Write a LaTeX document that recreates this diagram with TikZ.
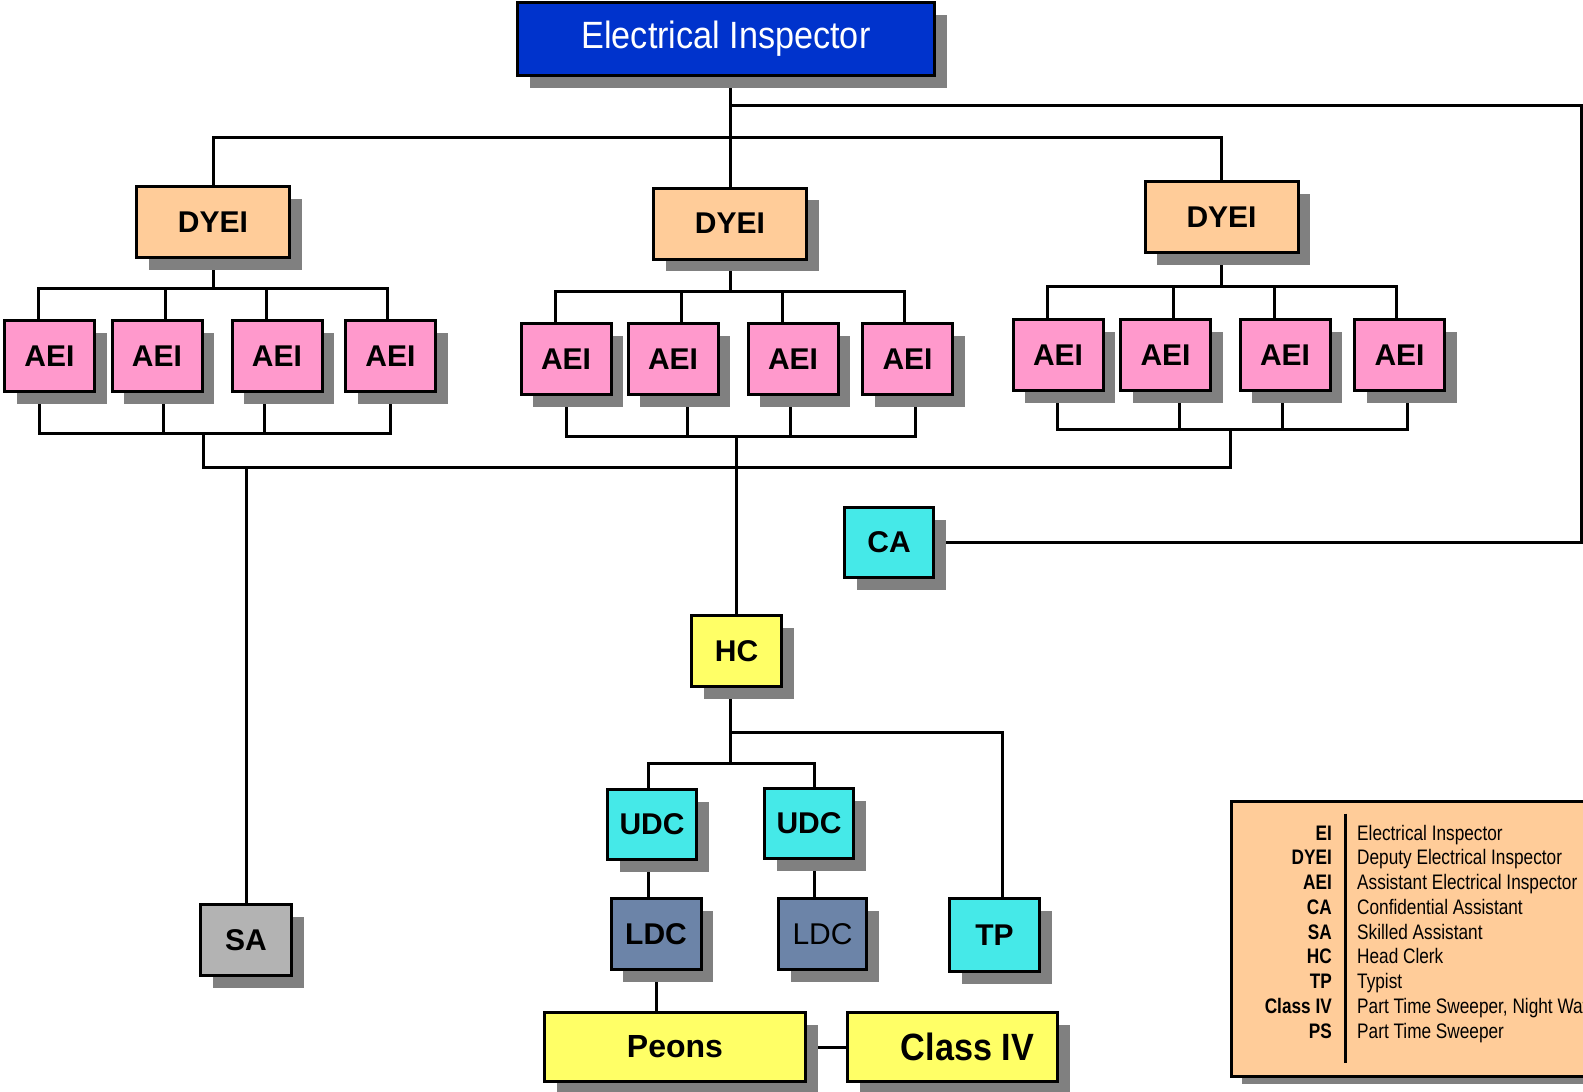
\documentclass[tikz,border=0pt]{standalone}
\usepackage{fontspec}
\setmainfont{Liberation Sans}
\newfontfamily\titlefont[FakeStretch=0.9]{Liberation Sans}
\newfontfamily\narrowfont[FakeStretch=0.82]{Liberation Sans}
\usetikzlibrary{positioning,shadows}
\pgfdeclarelayer{bg}
\pgfsetlayers{bg,main}

\definecolor{eiblue}{RGB}{0,51,204}
\definecolor{peach}{RGB}{255,204,153}
\definecolor{aeipink}{RGB}{255,153,204}
\definecolor{cyanbox}{RGB}{69,233,232}
\definecolor{yellowbox}{RGB}{255,255,102}
\definecolor{slate}{RGB}{108,132,168}
\definecolor{greybox}{RGB}{179,179,179}
\definecolor{shade}{RGB}{128,128,128}

\begin{document}
\begin{tikzpicture}[x=1pt, y=-1pt,
  box/.style={rectangle, draw=black, line width=3pt, inner sep=0pt, minimum width=90pt, minimum height=71pt,
    font=\fontsize{30}{36}\selectfont\bfseries,
    drop shadow={shadow xshift=12pt, shadow yshift=-12pt, fill=shade, opacity=1}},
  dyei/.style={box, fill=peach, minimum width=153pt},
  aei/.style={box, fill=aeipink},
  link/.style={line width=3pt, line cap=rect}]
%

\useasboundingbox (0,0) rectangle (1583,1092);
\clip (0,0) rectangle (1583,1092);

%%% nodes and boxes

%%% INSPECTOR
\node [box, fill=eiblue, text=white, minimum width=417pt, minimum height=73pt, font=\titlefont\fontsize{38}{44}\selectfont] (ei) at (726,39) {Electrical Inspector};

%%% DEPUTIES
\node [dyei] (dl) at (213,222) {DYEI};
\node [dyei] (dm) at (730,223.5) {DYEI};
\node [dyei] (dr) at (1221.5,217) {DYEI};

%%% ASSISTANTS
\node [aei] (l1) at (49.5,356) {AEI};
\node [aei] (l2) at (157,356) {AEI};
\node [aei] (l3) at (277,356) {AEI};
\node [aei] (l4) at (390.5,356) {AEI};

\node [aei] (m1) at (566,359) {AEI};
\node [aei] (m2) at (673,359) {AEI};
\node [aei] (m3) at (793,359) {AEI};
\node [aei] (m4) at (907.5,359) {AEI};

\node [aei] (r1) at (1058,355) {AEI};
\node [aei] (r2) at (1165.5,355) {AEI};
\node [aei] (r3) at (1285,355) {AEI};
\node [aei] (r4) at (1399.5,355) {AEI};

%%% OFFICE
\node [box, fill=cyanbox, minimum width=89pt, minimum height=70pt] (ca) at (889,542.5) {CA};
\node [box, fill=yellowbox] (hc) at (736.5,651) {HC};
\node [box, fill=cyanbox, minimum width=89pt, minimum height=70pt] (udc1) at (652,824.5) {UDC};
\node [box, fill=cyanbox, minimum width=89pt, minimum height=70pt] (udc2) at (809,823.5) {UDC};
\node [box, fill=slate] (ldc1) at (656,934) {LDC};
\node [box, fill=slate, minimum width=88pt, font=\fontsize{30}{36}\selectfont] (ldc2) at (822.5,934) {LDC};
\node [box, fill=greybox, minimum width=91pt] (sa) at (246,940) {SA};
\node [box, fill=cyanbox, minimum height=73pt] (tp) at (994.5,935) {TP};
\node [box, fill=yellowbox, minimum width=261pt, minimum height=69pt, font=\fontsize{32}{38}\selectfont\bfseries] (peons) at (675,1047) {Peons};
\node [box, fill=yellowbox, minimum width=210pt, minimum height=69pt, font=\titlefont\fontsize{38}{44}\selectfont\bfseries] (class4) at (952.5,1047) {\hspace*{30pt}Class IV};

%%% LEGEND
\node [rectangle, draw=black, line width=3pt, fill=peach, minimum width=400pt, minimum height=275pt, anchor=north west,
  drop shadow={shadow xshift=11pt, shadow yshift=-8pt, fill=shade, opacity=1}] (legend) at (1229.5,799.5) {};
\draw [line width=3pt] ([shift={(115.5,14)}]legend.north west) -- ++(0,249);
\foreach \abbr/\desc [count=\i from 0] in {EI/Electrical Inspector, DYEI/Deputy Electrical Inspector,
  AEI/Assistant Electrical Inspector, CA/Confidential Assistant, SA/Skilled Assistant, HC/Head Clerk,
  TP/Typist, Class IV/{Part Time Sweeper, Night Watchman}, PS/Part Time Sweeper}
{
  \node [anchor=base east, inner sep=0pt, font=\narrowfont\fontsize{21}{25}\selectfont\bfseries] (key-\i) at (1332,840+24.75*\i) {\abbr};
  \node [anchor=base west, inner sep=0pt, font=\narrowfont\fontsize{21}{25}\selectfont] (text-\i) at (1357,840+24.75*\i) {\desc};
}

%%% connections

\begin{pgfonlayer}{bg}
\draw [link] (ei.south -| dm.north) -- (dm.north);
\draw [link] (dl.north) |- (dm.north |- 0,137) -| (dr.north);
\coordinate (ca-turn) at (1581,105);
\draw [link] (dm.north |- ca-turn) -- (ca-turn) |- (ca.east);

\foreach \g/\ty/\by/\oa/\ob/\oc/\od in {l/288/433/-10/6/-13/0, m/291/436/0/14/-3/8, r/286/429/-1/14/-3/8}
{
  \draw [link] (d\g.south) -- (d\g.south |- 0,\ty);
  \draw [link] ([xshift=-11pt]\g1.north) |- ([xshift=-3pt]\g4.north |- 0,\ty) -- ([xshift=-3pt]\g4.north);
  \draw [link] ([xshift=8pt]\g2.north) -- ([xshift=8pt]\g2.north |- 0,\ty);
  \draw [link] ([xshift=-11pt]\g3.north) -- ([xshift=-11pt]\g3.north |- 0,\ty);
  \draw [link] ([xshift=\oa pt]\g1.south) |- ([xshift=\od pt]\g4.south |- 0,\by) -- ([xshift=\od pt]\g4.south);
  \draw [link] ([xshift=\ob pt]\g2.south) -- ([xshift=\ob pt]\g2.south |- 0,\by);
  \draw [link] ([xshift=\oc pt]\g3.south) -- ([xshift=\oc pt]\g3.south |- 0,\by);
}

\coordinate (jl) at (203,467);
\coordinate (jr) at (1230,467);
\draw [link] (jl |- 0,433) -- (jl) -- (jr) -- (jr |- 0,429);
\draw [link] (hc.north) -- (hc.north |- 0,436);
\draw [link] (sa.north) -- (sa.north |- jl);

\draw [link] ([xshift=-6.5pt]hc.south) -- ([xshift=-6.5pt]hc.south |- 0,763);
\draw [link] ([xshift=-4pt]udc1.north) |- ([xshift=5pt]udc2.north |- 0,763) -- ([xshift=5pt]udc2.north);
\draw [link] ([xshift=-6.5pt]hc.south |- 0,732) -| ([xshift=7.5pt]tp.north);
\draw [link] ([xshift=-4pt]udc1.south) -- ([xshift=-4pt]udc1.south |- ldc1.north);
\draw [link] ([xshift=5pt]udc2.south) -- ([xshift=5pt]udc2.south |- ldc2.north);
\draw [link] (ldc1.south) -- (ldc1.south |- peons.north);
\draw [link] (peons.east) -- (class4.west);
\end{pgfonlayer}

\end{tikzpicture}
\end{document}
